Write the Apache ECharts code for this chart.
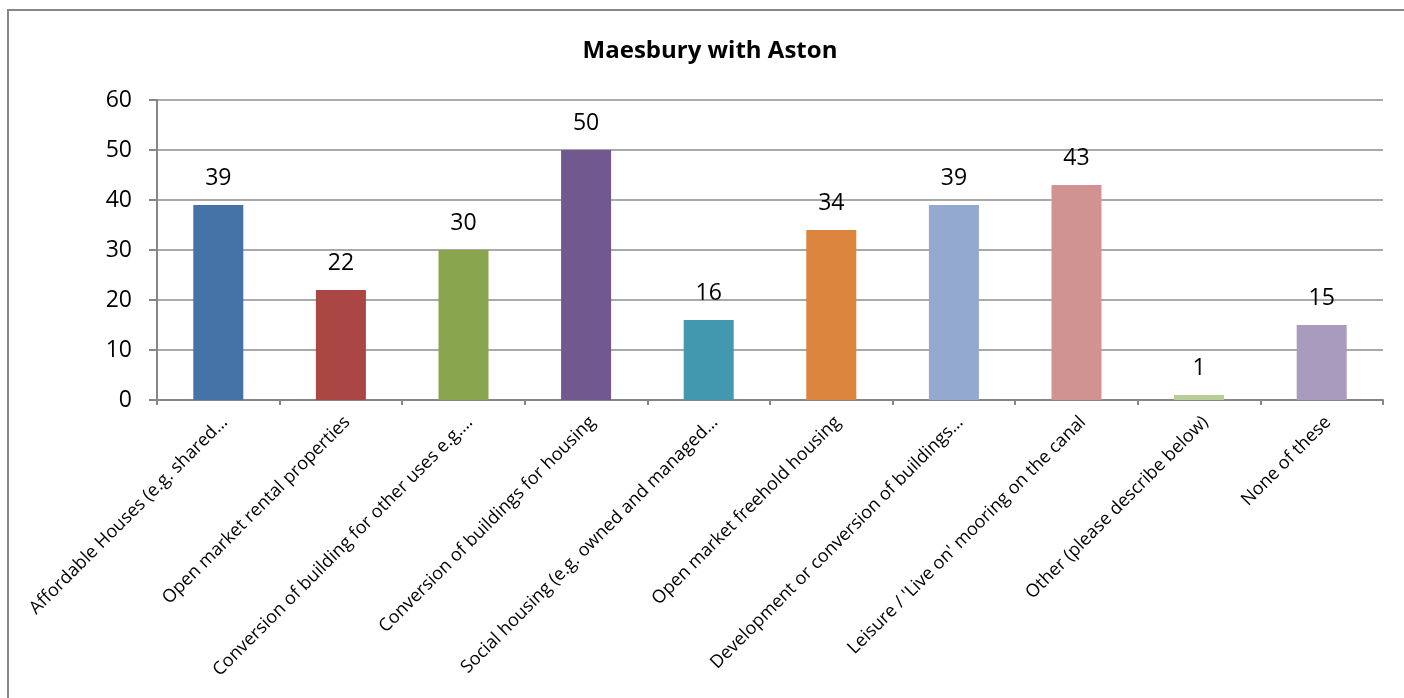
<!DOCTYPE html>
<html>
<head>
<meta charset="utf-8">
<script src="https://cdn.jsdelivr.net/npm/echarts@6/dist/echarts.min.js"></script>
<style>
html,body{margin:0;padding:0;background:#fff;}
#chart{width:1404px;height:698px;}
</style>
</head>
<body>
<div id="chart"></div>
<script>
const title = 'Maesbury with Aston';
const categories = [
  'Affordable Houses (e.g. shared…',
  'Open market rental properties',
  'Conversion of building for other uses e.g.…',
  'Conversion of buildings for housing',
  'Social housing (e.g. owned and managed…',
  'Open market freehold housing',
  'Development or conversion of buildings…',
  "Leisure / 'Live on' mooring on the canal",
  'Other (please describe below)',
  'None of these'
];
const values = [39, 22, 30, 50, 16, 34, 39, 43, 1, 15];
const barColors = ['#4572A7', '#AA4643', '#89A54E', '#71588F', '#4198AF', '#DB843D', '#93A9CF', '#D19392', '#B9CD96', '#A99BBD'];
const yTicks = [0, 10, 20, 30, 40, 50, 60];

const chart = echarts.init(document.getElementById('chart'), null, {renderer: 'canvas'});
const FONT = '"Open Sans", sans-serif';
chart.setOption({
  animation: false,
  backgroundColor: '#fff',
  title: {
    text: title,
    left: 705, top: 34, textAlign: 'center',
    textStyle: {fontFamily: FONT, fontSize: 24, fontWeight: 'bold', color: '#000'}
  },
  graphic: [{
    type: 'rect', silent: true, z: -1,
    shape: {x: 8, y: 10, width: 1420, height: 720},
    style: {fill: 'none', stroke: '#878787', lineWidth: 2}
  }],
  grid: {left: 157, right: 21, top: 100, bottom: 298, containLabel: false},
  xAxis: {
    type: 'category',
    data: categories,
    axisLine: {lineStyle: {color: '#868686', width: 2}},
    axisTick: {show: true, length: 5, alignWithLabel: false, lineStyle: {color: '#868686', width: 2}},
    axisLabel: {rotate: 45, interval: 0, margin: 13, verticalAlign: 'top', fontFamily: FONT, fontSize: 18, color: '#000'}
  },
  yAxis: {
    type: 'value',
    min: yTicks[0], max: yTicks[yTicks.length - 1], interval: 10,
    axisLine: {show: true, lineStyle: {color: '#868686', width: 2}},
    axisTick: {show: true, length: 8, lineStyle: {color: '#868686', width: 2}},
    splitLine: {lineStyle: {color: '#8c8c8c', width: 1.5}},
    axisLabel: {margin: 25, fontFamily: FONT, fontSize: 23, color: '#000'}
  },
  series: [{
    type: 'bar',
    barWidth: 50,
    data: values.map((v, i) => ({value: v, itemStyle: {color: barColors[i]}})),
    label: {show: true, position: 'top', distance: 15, fontFamily: FONT, fontSize: 23, color: '#000'}
  }]
});
</script>
</body>
</html>
